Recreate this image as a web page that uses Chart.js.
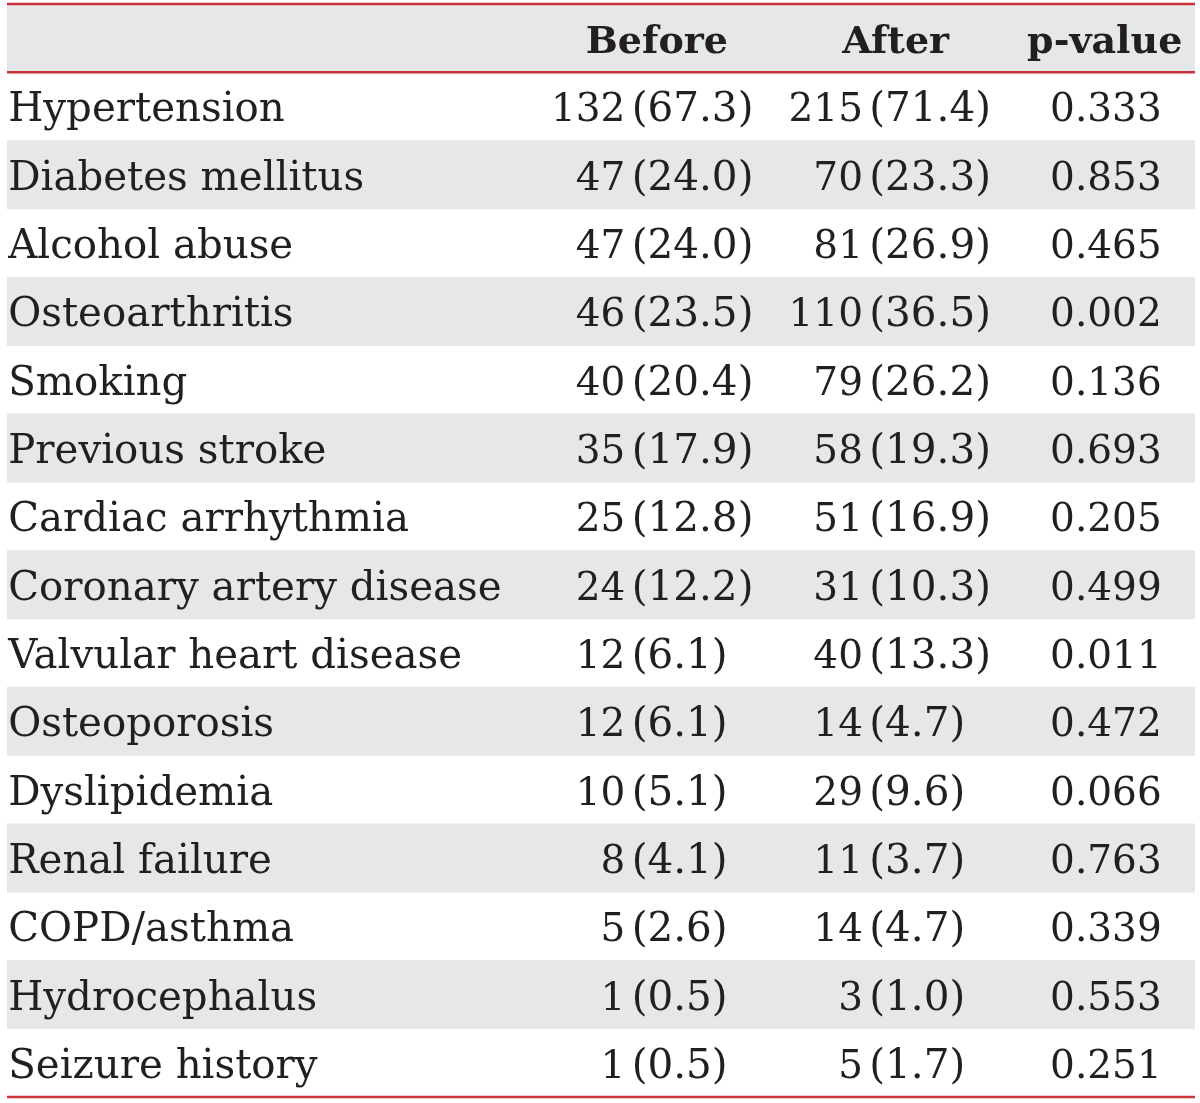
<!DOCTYPE html>
<html>
<head>
<meta charset="utf-8">
<script src="https://cdn.jsdelivr.net/npm/chart.js@4.4.1/dist/chart.umd.min.js"></script>
<style>
  html, body { margin: 0; padding: 0; background: #ffffff; }
  #wrap { position: relative; width: 1200px; height: 1103px; }
</style>
</head>
<body>
<div id="wrap"><canvas id="c"></canvas></div>
<script>
// ---- data ----
const conditions = [
  'Hypertension', 'Diabetes mellitus', 'Alcohol abuse', 'Osteoarthritis', 'Smoking',
  'Previous stroke', 'Cardiac arrhythmia', 'Coronary artery disease', 'Valvular heart disease',
  'Osteoporosis', 'Dyslipidemia', 'Renal failure', 'COPD/asthma', 'Hydrocephalus', 'Seizure history'
];
const beforeN   = [132, 47, 47, 46, 40, 35, 25, 24, 12, 12, 10, 8, 5, 1, 1];
const beforePct = [67.3, 24.0, 24.0, 23.5, 20.4, 17.9, 12.8, 12.2, 6.1, 6.1, 5.1, 4.1, 2.6, 0.5, 0.5];
const afterN    = [215, 70, 81, 110, 79, 58, 51, 31, 40, 14, 29, 11, 14, 3, 5];
const afterPct  = [71.4, 23.3, 26.9, 36.5, 26.2, 19.3, 16.9, 10.3, 13.3, 4.7, 9.6, 3.7, 4.7, 1.0, 1.7];
const pValues   = ['0.333', '0.853', '0.465', '0.002', '0.136', '0.693', '0.205', '0.499', '0.011',
                   '0.472', '0.066', '0.763', '0.339', '0.553', '0.251'];
const columnHeaders = ['Before', 'After', 'p-value'];

// ---- layout / style ----
const rowLabels = [''].concat(conditions);           // row 0 = header row
const FONT = "'DejaVu Serif', 'Liberation Serif', serif";
const FS_LABEL = 40.3;
const FS_NUM = 39;
const FS_PCT = 40.5;
const FS_HEAD = 38;
const TEXT = '#231f20';
const RED = '#c9323b';
const GREY = '#e6e7e9';
// column anchors in x-scale units (0..1 across the table)
const COL = {
  label: 0.001,
  beforeNumRight: 0.5205, beforePctLeft: 0.5258,
  afterNumRight: 0.7205, afterPctLeft: 0.7258,
  pCenter: 0.925,
  hdrBefore: 0.547, hdrAfter: 0.748, hdrP: 0.924
};
const ruleBoundaries = [0, 1, rowLabels.length];    // rules above row 0, above row 1, below last row

const stripe = rowLabels.map((_, i) => (i % 2 === 0 ? [0, 1] : null));

const tablePlugin = {
  id: 'tablePlugin',
  afterDraw(chart) {
    const ctx = chart.ctx;
    const xs = chart.scales.x, ys = chart.scales.y;
    const X = v => xs.getPixelForValue(v);
    const mid = i => ys.getPixelForValue(i);
    ctx.save();
    // rules
    ctx.strokeStyle = RED;
    ctx.lineWidth = 2.5;
    ruleBoundaries.forEach(b => {
      const y = ys.getPixelForValue(b - 0.5);
      ctx.beginPath();
      ctx.moveTo(X(0), y);
      ctx.lineTo(X(1), y);
      ctx.stroke();
    });
    ctx.fillStyle = TEXT;
    ctx.textBaseline = 'alphabetic';
    // header
    ctx.font = `bold ${FS_HEAD}px ${FONT}`;
    ctx.textAlign = 'center';
    const hy = mid(0) + FS_HEAD * 0.39;
    ctx.fillText(columnHeaders[0], X(COL.hdrBefore), hy);
    ctx.fillText(columnHeaders[1], X(COL.hdrAfter), hy);
    ctx.fillText(columnHeaders[2], X(COL.hdrP), hy);
    // body
    conditions.forEach((name, k) => {
      const y = mid(k + 1) + 15;
      ctx.font = `${FS_LABEL}px ${FONT}`;
      ctx.textAlign = 'left';
      ctx.fillText(name, X(COL.label), y);
      ctx.font = `${FS_NUM}px ${FONT}`;
      ctx.textAlign = 'right';
      ctx.fillText(String(beforeN[k]), X(COL.beforeNumRight), y);
      ctx.fillText(String(afterN[k]), X(COL.afterNumRight), y);
      ctx.textAlign = 'center';
      ctx.fillText(pValues[k], X(COL.pCenter), y);
      ctx.font = `${FS_PCT}px ${FONT}`;
      ctx.textAlign = 'left';
      ctx.fillText('(' + beforePct[k].toFixed(1) + ')', X(COL.beforePctLeft), y);
      ctx.fillText('(' + afterPct[k].toFixed(1) + ')', X(COL.afterPctLeft), y);
    });
    ctx.restore();
  }
};

new Chart(document.getElementById('c'), {
  type: 'bar',
  data: {
    labels: rowLabels,
    datasets: [{
      data: stripe,
      backgroundColor: GREY,
      borderWidth: 0,
      barPercentage: 1,
      categoryPercentage: 1
    }]
  },
  options: {
    indexAxis: 'y',
    responsive: true,
    maintainAspectRatio: false,
    animation: false,
    layout: { padding: { top: 4, bottom: 6, left: 7, right: 5 } },
    plugins: { legend: { display: false }, tooltip: { enabled: false } },
    scales: {
      x: { type: 'linear', min: 0, max: 1, display: false },
      y: { type: 'category', offset: true, display: false }
    }
  },
  plugins: [tablePlugin]
});
</script>
</body>
</html>
